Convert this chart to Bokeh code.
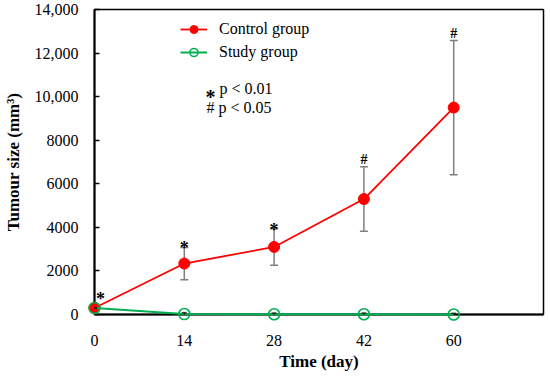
from bokeh.plotting import figure
from bokeh.models import (Range1d, FixedTicker, ColumnDataSource, Whisker, TeeHead,
                          Legend, LegendItem, Label)
from bokeh.embed import file_html
from bokeh.resources import INLINE
from bokeh.core.properties import value

# ---- data ----
days = ["0", "14", "28", "42", "60"]
control_mean = [300, 2340, 3100, 5300, 9500]
control_err = [0, 740, 840, 1480, 3080]
study_mean = [300, 20, 10, 10, 0]
study_err = [0, 60, 60, 60, 60]
sig_marks = ["*", "*", "*", "#", "#"]
y_ticks = [0, 2000, 4000, 6000, 8000, 10000, 12000, 14000]
y_max = 14000

FONT = "Liberation Serif"
RED = "#FF0000"
GREEN = "#00B050"

x = list(range(len(days)))

p = figure(width=550, height=376,
           x_range=Range1d(0, len(days)), y_range=Range1d(0, y_max),
           output_backend="svg", toolbar_location=None,
           min_border_left=94, min_border_right=7, min_border_top=9,
           min_border_bottom=62)
p.grid.visible = False
p.background_fill_color = "white"
p.border_fill_color = "white"
p.outline_line_color = "black"
p.outline_line_width = 1.5
p.outline_line_alpha = 1

# x axis
xa = p.xaxis[0]
xa.ticker = FixedTicker(ticks=x)
xa.major_label_overrides = {i: d for i, d in enumerate(days)}
xa.major_tick_line_color = None
xa.minor_tick_line_color = None
xa.axis_line_width = 2
xa.axis_line_color = "black"
xa.major_label_text_font = FONT
xa.major_label_text_font_size = "16px"
xa.major_label_text_color = "black"
xa.major_label_standoff = 14
xa.axis_label = "Time (day)"
xa.axis_label_text_font = FONT
xa.axis_label_text_font_style = "bold"
xa.axis_label_text_font_size = "17px"
xa.axis_label_text_color = "black"
xa.axis_label_standoff = 3

# y axis
ya = p.yaxis[0]
ya.ticker = FixedTicker(ticks=y_ticks)
ya.major_label_overrides = {v: (f"{v:,}" if v >= 10000 else str(v)) for v in y_ticks}
ya.major_tick_in = 5
ya.major_tick_out = 0
ya.major_tick_line_width = 1.5
ya.major_tick_line_color = "black"
ya.minor_tick_line_color = None
ya.axis_line_width = 2
ya.axis_line_color = "black"
ya.major_label_text_font = FONT
ya.major_label_text_font_size = "16px"
ya.major_label_text_color = "black"
ya.major_label_standoff = 16
ya.axis_label = "Tumour size (mm³)"
ya.axis_label_text_font = FONT
ya.axis_label_text_font_style = "bold"
ya.axis_label_text_font_size = "17px"
ya.axis_label_text_color = "black"
ya.axis_label_standoff = 9

# sources
csrc = ColumnDataSource(dict(
    x=x, y=control_mean,
    upper=[m + e for m, e in zip(control_mean, control_err)],
    lower=[m - e for m, e in zip(control_mean, control_err)],
))
ssrc = ColumnDataSource(dict(
    x=x, y=study_mean,
    upper=[m + e for m, e in zip(study_mean, study_err)],
    lower=[m - e for m, e in zip(study_mean, study_err)],
))

# error bars
cw = Whisker(base="x", upper="upper", lower="lower", source=csrc,
             line_color="#7F7F7F", line_width=1.5, level="underlay",
             upper_head=TeeHead(size=8, line_color="#7F7F7F", line_width=1.5),
             lower_head=TeeHead(size=8, line_color="#7F7F7F", line_width=1.5))
p.add_layout(cw)

# lines and markers
rl = p.line("x", "y", source=csrc, line_color=RED, line_width=1.8, level="overlay")
rs = p.scatter("x", "y", source=csrc, marker="circle", size=11,
               fill_color=RED, line_color=RED, line_width=1, level="overlay")
gl = p.line("x", "y", source=ssrc, line_color=GREEN, line_width=2, level="overlay")
gs = p.scatter("x", "y", source=ssrc, marker="circle", size=11,
               fill_alpha=0, line_color=GREEN, line_width=1.6, level="overlay")

sw = Whisker(base="x", upper="upper", lower="lower", source=ssrc,
             line_color="black", line_width=1, level="overlay",
             upper_head=TeeHead(size=5, line_color="black", line_width=1),
             lower_head=TeeHead(size=5, line_color="black", line_width=1))
p.add_layout(sw)

# significance marks above control points
sig_dx = [6, 0, 0, 0, 0]
sig_dy = [-9, 1, 1, -7, -7]
sig_size = ["18px" if m == "*" else "14px" for m in sig_marks]
sig_src = ColumnDataSource(dict(
    x=x, y=[m + e for m, e in zip(control_mean, control_err)],
    t=sig_marks, dx=sig_dx, dy=sig_dy, fs=sig_size,
))
p.text(x="x", y="y", text="t", source=sig_src, x_offset="dx", y_offset="dy",
       text_align="center", text_baseline="alphabetic",
       text_font=value(FONT), text_font_size="fs", text_font_style="bold",
       text_color="black", level="overlay")

# legend
legend = Legend(items=[LegendItem(label="Control group", renderers=[rl, rs]),
                       LegendItem(label="Study group", renderers=[gl, gs])],
                location=(86, 252), padding=0, margin=0, spacing=3,
                glyph_width=27, glyph_height=20, label_height=20, label_standoff=12,
                background_fill_alpha=0, border_line_color=None,
                label_text_font=FONT, label_text_font_size="16px",
                label_text_color="black")
p.add_layout(legend)

# p-value notes
p.add_layout(Label(x=1.236, y=9979, text="*", text_font=FONT, text_font_size="20px",
                   text_font_style="bold", text_baseline="alphabetic", text_color="black"))
p.add_layout(Label(x=1.392, y=10351, text="p < 0.01", text_font=FONT, text_font_size="16px",
                   text_baseline="alphabetic", text_color="black"))
p.add_layout(Label(x=1.247, y=9479, text="# p < 0.05", text_font=FONT, text_font_size="16px",
                   text_baseline="alphabetic", text_color="black"))

open("out.html", "w").write(file_html(p, INLINE))
